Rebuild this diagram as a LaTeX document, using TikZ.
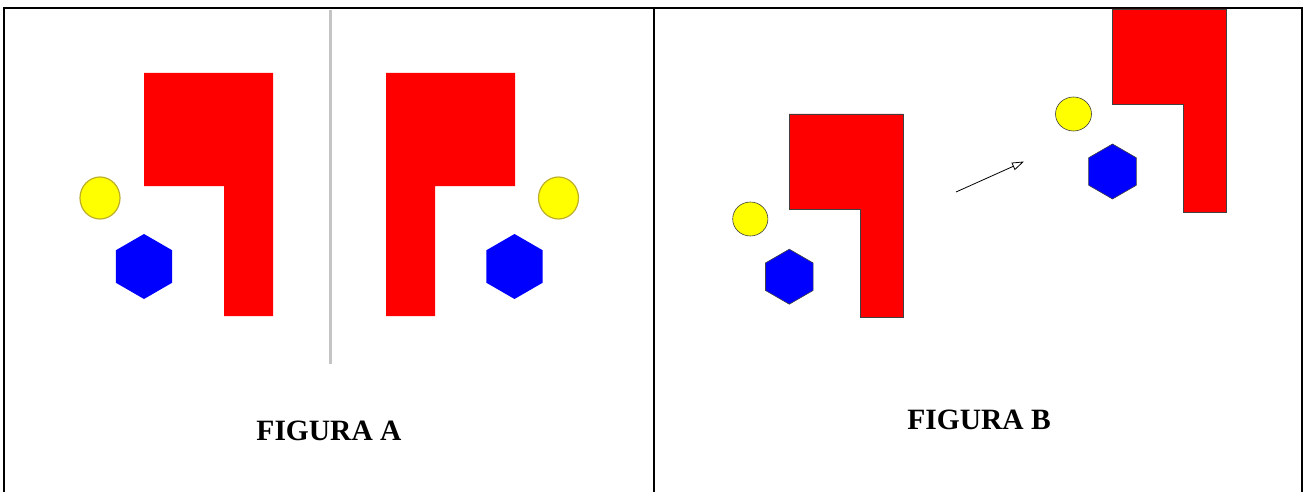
\documentclass[tikz,border=0pt]{standalone}
\usepackage{fontspec}
\setmainfont{Liberation Serif}
\usetikzlibrary{arrows.meta}
\definecolor{redfill}{HTML}{FF0000}
\definecolor{bluefill}{HTML}{0000FF}
\definecolor{yellowfill}{HTML}{FFFF00}
\definecolor{divgrey}{HTML}{C4C4C4}
\tikzset{
  frameline/.style={line width=2pt, black},
  redA/.style={fill=redfill, draw=none},
  yelA/.style={fill=yellowfill, draw={rgb,255:red,190;green,175;blue,40}, line width=1.2pt},
  bluA/.style={fill=bluefill, draw=none},
  redB/.style={fill=redfill, draw=black!75, line width=0.6pt},
  yelB/.style={fill=yellowfill, draw=black!75, line width=0.6pt},
  bluB/.style={fill=bluefill, draw=black!75, line width=0.6pt},
  caption/.style={font=\fontsize{29.5}{32}\selectfont\bfseries, inner sep=0pt},
  movearrow/.style={line width=0.8pt, -{Triangle[open, length=12pt, width=8pt, line width=0.8pt]}}
}
\newcommand{\hexat}[4]{\draw[#4, shift={(#1,#2)}] (90:#3) -- (30:#3) -- (-30:#3) -- (-90:#3) -- (-150:#3) -- (150:#3) -- cycle;}
\begin{document}
\begin{tikzpicture}[x=1pt, y=-1pt]
\useasboundingbox (0,0) rectangle (1306,492);
\fill[white] (0,0) rectangle (1306,492);
% frame
\draw[frameline] (4,492) -- (4,8) -- (1302,8) -- (1302,492);
\draw[frameline] (654,8) -- (654,492);
% Figure A
\draw[divgrey, line width=3pt] (330,10) -- (330,364);
\fill[redA] (144,73) -- (273,73) -- (273,316) -- (224,316) -- (224,186) -- (144,186) -- cycle;
\fill[redA] (386,73) -- (515,73) -- (515,186) -- (435,186) -- (435,316) -- (386,316) -- cycle;
\draw[yelA] (100,198) ellipse [x radius=20, y radius=21];
\draw[yelA] (558.5,198) ellipse [x radius=20, y radius=21];
\hexat{144}{266.5}{32.5}{bluA}
\hexat{514.5}{266.5}{32.5}{bluA}
\node[caption] (capA) at (329,431) {FIGURA A};
% Figure B
\draw[redB] (789,114) -- (903,114) -- (903,317.5) -- (860,317.5) -- (860,209) -- (789,209) -- cycle;
\draw[redB] (1112,9) -- (1226,9) -- (1226,212) -- (1183,212) -- (1183,104) -- (1112,104) -- cycle;
\draw[yelB] (750.3,219) ellipse [x radius=17.6, y radius=17];
\draw[yelB] (1073.5,114) ellipse [x radius=18, y radius=17];
\hexat{789.3}{276.7}{27.5}{bluB}
\hexat{1112.5}{171.5}{27.5}{bluB}
\coordinate (arrS) at (956,192);
\coordinate (arrE) at (1024,161.5);
\draw[movearrow] (arrS) -- (arrE);
\node[caption] (capB) at (979,419.5) {FIGURA B};
\end{tikzpicture}
\end{document}
